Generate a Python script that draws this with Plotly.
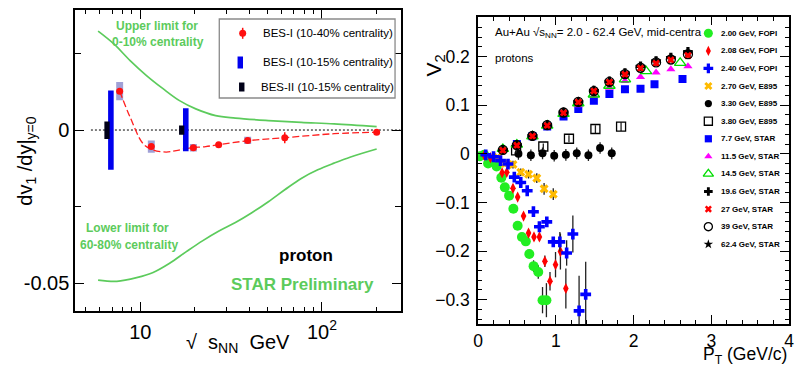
import plotly.graph_objects as go

W, H = 797, 369
FONT = "Liberation Sans, Arial, Helvetica, sans-serif"
GREEN_L = "#5ccb5c"

# ---------------- Left panel data ----------------
sqrt_s_red = [7.7, 11.5, 19.6, 27, 39, 62.4, 200]
dv1_red = [0.0127, -0.0054, -0.0058, -0.0048, -0.0034, -0.0025, -0.0007]
dv1_red_err = [0.0008, 0.0008, 0.0006, 0.0005, 0.0006, 0.0018, 0.0005]
dv1_red_sys = [0.003, 0.002, 0.0012, 0.0, 0.0012, 0.0, 0.0]

fit_x = [7.7, 8.79, 10.38, 11.77, 13.9, 15.75, 18.6, 22.9, 27, 39, 62.4, 116.7, 200]
fit_y = [0.0127, 0.0042, -0.0045, -0.0065, -0.0072, -0.0067, -0.0059, -0.0054,
         -0.0048, -0.0035, -0.0025, -0.0012, -0.0007]

upper_x = [5.86, 7.13, 8.79, 10.82, 13.34, 16.44, 20.2, 25.98, 33.4, 50.7, 76.9, 116.7, 200]
upper_y = [0.0323, 0.0282, 0.0227, 0.0178, 0.0135, 0.0096, 0.0069, 0.0047, 0.0039,
           0.0031, 0.0025, 0.0020, 0.0011]
lower_x = [5.86, 7.43, 9.55, 11.77, 14.5, 17.85, 22.0, 27.1, 33.4, 41.1, 50.7, 62.4,
           76.9, 94.8, 116.7, 143.8, 200]
lower_y = [-0.0490, -0.0494, -0.0482, -0.0465, -0.0435, -0.0398, -0.0362, -0.0330,
           -0.0302, -0.0270, -0.0234, -0.0195, -0.0158, -0.0130, -0.0108, -0.0088, -0.0062]

bes1_x = [6.89, 17.8]
bes1_lo = [-0.0130, -0.0069]
bes1_hi = [0.0129, 0.0071]
bes2_x = [6.56, 16.9]
bes2_lo = [-0.0029, -0.0015]
bes2_hi = [0.0028, 0.0015]

zero_line_x = [5.35, 270]

# ---------------- Right panel data ----------------
pt_200 = [0.025, 0.08, 0.13, 0.19, 0.24, 0.30, 0.345, 0.40, 0.455, 0.51, 0.565, 0.615,
          0.66, 0.715, 0.775, 0.83, 0.88]
v2_200 = [-0.005, -0.002, -0.020, -0.015, -0.026, -0.049, -0.069, -0.086, -0.113, -0.148,
          -0.171, -0.180, -0.206, -0.231, -0.243, -0.301, -0.301]
e_200 = [0.002, 0.002, 0.003, 0.003, 0.003, 0.004, 0.004, 0.005, 0.006, 0.006, 0.007,
         0.008, 0.009, 0.012, 0.014, 0.027, 0.035]

pt_208 = [0.08, 0.16, 0.31, 0.37, 0.45, 0.51, 0.586, 0.65, 0.72, 0.79, 0.86, 0.926,
          0.997, 1.06, 1.13]
v2_208 = [-0.003, -0.008, -0.039, -0.038, -0.071, -0.089, -0.128, -0.163, -0.171, -0.171,
          -0.221, -0.262, -0.228, -0.201, -0.277]
e_208 = [0.002, 0.002, 0.004, 0.004, 0.005, 0.005, 0.007, 0.007, 0.008, 0.008, 0.012,
         0.019, 0.026, 0.037, 0.041]

pt_240 = [0.1, 0.2, 0.29, 0.386, 0.467, 0.55, 0.633, 0.713, 0.79, 0.885, 0.968, 1.053,
          1.14, 1.22, 1.30, 1.385]
v2_240 = [-0.002, -0.006, -0.014, -0.021, -0.048, -0.059, -0.076, -0.119, -0.150, -0.140,
          -0.181, -0.181, -0.204, -0.165, -0.323, -0.289]
e_240 = [0.002, 0.002, 0.003, 0.004, 0.005, 0.005, 0.006, 0.008, 0.010, 0.010, 0.010,
         0.020, 0.026, 0.038, 0.072, 0.067]

pt_270 = [0.25, 0.35, 0.45, 0.55, 0.65, 0.756, 0.85, 0.968]
v2_270 = [-0.007, -0.020, -0.022, -0.038, -0.042, -0.050, -0.072, -0.083]
e_270 = [0.004, 0.006, 0.008, 0.008, 0.009, 0.010, 0.012, 0.012]

pt_330 = [0.52, 0.68, 0.83, 0.98, 1.13, 1.27, 1.42, 1.57, 1.72]
v2_330 = [0.000, -0.003, 0.001, -0.004, -0.002, 0.001, -0.003, 0.012, 0.001]
e_330 = [0.012, 0.012, 0.012, 0.012, 0.012, 0.012, 0.012, 0.012, 0.012]

pt_380 = [0.49, 0.84, 1.17, 1.51, 1.84]
v2_380 = [0.007, 0.015, 0.031, 0.051, 0.056]
e_380 = [0.005, 0.006, 0.007, 0.008, 0.009]

pt_star = [0.32, 0.50, 0.70, 0.89, 1.10, 1.29, 1.49, 1.69, 1.89, 2.09, 2.29, 2.48, 2.70]
v2_624 = [0.008, 0.018, 0.037, 0.059, 0.085, 0.107, 0.130, 0.148, 0.165, 0.178, 0.190, 0.196, 0.208]
v2_39 = [0.008, 0.018, 0.037, 0.059, 0.085, 0.107, 0.129, 0.148, 0.164, 0.177, 0.188, 0.194, 0.205]
v2_27 = [0.007, 0.017, 0.036, 0.058, 0.084, 0.106, 0.129, 0.147, 0.163, 0.176, 0.186, 0.193, 0.202]
v2_196 = [0.008, 0.018, 0.037, 0.059, 0.085, 0.107, 0.130, 0.149, 0.166, 0.180, 0.191, 0.198, 0.210]
e_196 = [0.002, 0.002, 0.002, 0.003, 0.003, 0.003, 0.004, 0.005, 0.005, 0.006, 0.007, 0.008, 0.009]
v2_115 = [0.012, 0.019, 0.035, 0.057, 0.080, 0.100, 0.119, 0.136, 0.150, 0.158, 0.167, 0.174, 0.180]
pt_145 = [0.32, 0.50, 0.70, 0.89, 1.10, 1.29, 1.49, 1.69, 1.89, 2.16, 2.60]
v2_145 = [0.010, 0.019, 0.036, 0.058, 0.082, 0.104, 0.122, 0.140, 0.153, 0.170, 0.187]
pt_77 = [0.50, 0.70, 0.89, 1.10, 1.29, 1.49, 1.69, 1.89, 2.09, 2.27, 2.63]
v2_77 = [0.020, 0.036, 0.056, 0.077, 0.092, 0.109, 0.123, 0.133, 0.134, 0.143, 0.154]

legend_labels = ["2.00 GeV, FOPI", "2.08 GeV, FOPI", "2.40 GeV, FOPI", "2.70 GeV, E895",
                 "3.30 GeV, E895", "3.80 GeV, E895", "7.7 GeV, STAR", "11.5 GeV, STAR",
                 "14.5 GeV, STAR", "19.6 GeV, STAR", "27 GeV, STAR", "39 GeV, STAR",
                 "62.4 GeV, STAR"]

# marker styles (symbol, color, size, open?)
styles = {
    "2.00 GeV, FOPI": ("circle", "#22ee22", 10, False),
    "2.08 GeV, FOPI": ("diamond-tall", "#ff0000", 8, False),
    "2.40 GeV, FOPI": ("cross", "#0000ff", 9, False),
    "2.70 GeV, E895": ("x", "#ffbb00", 8, False),
    "3.30 GeV, E895": ("circle", "#000000", 8, False),
    "3.80 GeV, E895": ("square-open", "#000000", 9, True),
    "7.7 GeV, STAR": ("square", "#0000ff", 8, False),
    "11.5 GeV, STAR": ("triangle-up", "#ff00ff", 8, False),
    "14.5 GeV, STAR": ("triangle-up-open", "#00dd00", 10, True),
    "19.6 GeV, STAR": ("cross", "#000000", 8, False),
    "27 GeV, STAR": ("x", "#ff0000", 7, False),
    "39 GeV, STAR": ("circle-open", "#000000", 9, True),
    "62.4 GeV, STAR": ("star", "#000000", 8, False),
}

series = [
    ("2.00 GeV, FOPI", pt_200, v2_200, e_200),
    ("2.08 GeV, FOPI", pt_208, v2_208, e_208),
    ("2.70 GeV, E895", pt_270, v2_270, e_270),
    ("2.40 GeV, FOPI", pt_240, v2_240, e_240),
    ("3.30 GeV, E895", pt_330, v2_330, e_330),
    ("3.80 GeV, E895", pt_380, v2_380, e_380),
    ("7.7 GeV, STAR", pt_77, v2_77, None),
    ("11.5 GeV, STAR", pt_star, v2_115, None),
    ("14.5 GeV, STAR", pt_145, v2_145, None),
    ("19.6 GeV, STAR", pt_star, v2_196, e_196),
    ("62.4 GeV, STAR", pt_star, v2_624, None),
    ("27 GeV, STAR", pt_star, v2_27, None),
    ("39 GeV, STAR", pt_star, v2_39, None),
]


def marker_of(name, scale=1.0):
    sym, col, size, is_open = styles[name]
    if is_open:
        return dict(symbol=sym, color=col, size=size * scale, line=dict(color=col, width=1.3))
    return dict(symbol=sym, color=col, size=size * scale, line=dict(width=0))


fig = go.Figure()

# ---------- left panel traces ----------
fig.add_trace(go.Scatter(x=zero_line_x, y=[0, 0], mode="lines",
                         line=dict(color="black", width=1, dash="2px,2px"),
                         xaxis="x", yaxis="y", hoverinfo="skip"))
fig.add_trace(go.Scatter(x=upper_x, y=upper_y, mode="lines",
                         line=dict(color=GREEN_L, width=1.7, shape="spline"), xaxis="x", yaxis="y"))
fig.add_trace(go.Scatter(x=lower_x, y=lower_y, mode="lines",
                         line=dict(color=GREEN_L, width=1.7, shape="spline"), xaxis="x", yaxis="y"))

# systematic boxes
bx, by = [], []
for e, v, s in zip(sqrt_s_red, dv1_red, dv1_red_sys):
    if s > 0:
        f = 1.045
        bx += [e / f, e * f, e * f, e / f, e / f, None]
        by += [v - s, v - s, v + s, v + s, v - s, None]
fig.add_trace(go.Scatter(x=bx, y=by, mode="lines", fill="toself",
                         fillcolor="rgba(128,128,200,0.75)", line=dict(width=0),
                         xaxis="x", yaxis="y"))

fig.add_trace(go.Scatter(x=fit_x, y=fit_y, mode="lines",
                         line=dict(color="#ff2020", width=1.3, dash="7px,3px", shape="spline"),
                         xaxis="x", yaxis="y"))


def bars(xs, lo, hi, f):
    px, py = [], []
    for c, l, h in zip(xs, lo, hi):
        px += [c / f, c * f, c * f, c / f, c / f, None]
        py += [l, l, h, h, l, None]
    return px, py


px_, py_ = bars(bes1_x, bes1_lo, bes1_hi, 1.036)
fig.add_trace(go.Scatter(x=px_, y=py_, mode="lines", fill="toself", fillcolor="#0000ee",
                         line=dict(width=0), xaxis="x", yaxis="y"))
px_, py_ = bars(bes2_x, bes2_lo, bes2_hi, 1.034)
fig.add_trace(go.Scatter(x=px_, y=py_, mode="lines", fill="toself", fillcolor="#000018",
                         line=dict(width=0), xaxis="x", yaxis="y"))

fig.add_trace(go.Scatter(x=sqrt_s_red, y=dv1_red, mode="markers",
                         marker=dict(color="#ff1010", size=7),
                         error_y=dict(type="data", array=dv1_red_err, color="#ff1010",
                                      thickness=1.5, width=0),
                         xaxis="x", yaxis="y"))

# ---------- right panel traces ----------
for name, xs, ys, es in series:
    kw = {}
    if es is not None:
        kw["error_y"] = dict(type="data", array=es, color="#222222", thickness=1.3, width=0)
    fig.add_trace(go.Scatter(x=xs, y=ys, mode="markers", marker=marker_of(name),
                             xaxis="x2", yaxis="y2", **kw))

# ---------- legend glyphs (pixel overlay axis) ----------
leg_y = [33.3 + i * 17.58 for i in range(len(legend_labels))]
for name, yy in zip(legend_labels, leg_y):
    fig.add_trace(go.Scatter(x=[712.3], y=[yy], mode="markers", marker=marker_of(name, 0.9),
                             xaxis="x3", yaxis="y3", cliponaxis=False))
fig.add_trace(go.Scatter(x=[240.7], y=[33.3], mode="markers",
                         marker=dict(color="#ff1010", size=7),
                         error_y=dict(type="data", array=[5.5], color="#ff1010", thickness=1.5, width=0),
                         xaxis="x3", yaxis="y3", cliponaxis=False))

shapes = [
    dict(type="rect", xref="x3", yref="y3", x0=217, x1=395, y0=19, y1=98,
         line=dict(color="#8a8a8a", width=1.3), fillcolor="white", layer="below"),
    dict(type="rect", xref="x3", yref="y3", x0=235.5, x1=241, y0=56.5, y1=68.5,
         line=dict(width=0), fillcolor="#0000ee"),
    dict(type="rect", xref="x3", yref="y3", x0=237, x1=242.5, y0=82.5, y1=91.5,
         line=dict(width=0), fillcolor="#000018"),
]

ann = []


def text(x, y, s, size, color="black", xanchor="center", angle=0, yanchor="middle"):
    ann.append(dict(x=x, y=y, xref="x3", yref="y3", text=s, showarrow=False,
                    font=dict(family=FONT, size=size, color=color), xanchor=xanchor,
                    yanchor=yanchor, textangle=angle))


text(259, 33.3, "BES-I (10-40% centrality)", 11.5, xanchor="left")
text(259, 61.5, "BES-I (10-15% centrality)", 11.5, xanchor="left")
text(257, 87, "BES-II (10-15% centrality)", 11.5, xanchor="left")
text(154, 26, "<b>Upper limit for</b>", 12, GREEN_L)
text(155, 42, "<b>0-10% centrality</b>", 12, GREEN_L)
text(124, 228, "<b>Lower limit for</b>", 12, GREEN_L)
text(125.5, 244.5, "<b>60-80% centrality</b>", 12, GREEN_L)
text(305, 255, "<b>proton</b>", 17)
text(301, 284, "<b>STAR Preliminary</b>", 17, GREEN_L)
text(21, 161, "dv<sub>1</sub> /dy|<sub>y=0</sub>", 20, angle=-90)
text(236, 343, "\u221a\u00a0 s<sub>NN</sub>\u00a0 GeV", 20)

text(494, 32.5, "Au+Au \u221as<sub>NN</sub>= 2.0 - 62.4 GeV, mid-centra", 11.5, xanchor="left")
text(494, 57.5, "protons", 11.5, xanchor="left")
text(435, 66, "V<sub>2</sub>", 21, angle=-90)
text(794, 368.5, "P<sub>T</sub> (GeV/c)", 17.5, xanchor="right", yanchor="bottom")
for lab, yy in zip(legend_labels, leg_y):
    text(723.5, yy, "<b>" + lab + "</b>", 8, xanchor="left")

axis_common = dict(showline=True, linecolor="black", linewidth=1.5, mirror="ticks",
                   ticks="inside", tickcolor="black", showgrid=False, zeroline=False,
                   tickfont=dict(family=FONT, size=20, color="black"))

fig.update_layout(
    width=W, height=H, autosize=False,
    margin=dict(l=0, r=0, t=0, b=0),
    paper_bgcolor="white", plot_bgcolor="rgba(0,0,0,0)",
    showlegend=False,
    font=dict(family=FONT),
    xaxis=dict(axis_common, type="log", domain=[71 / W, 401 / W], range=[0.6413, 2.4348],
               anchor="y", tickvals=[10, 100], ticktext=["10", "10<sup>2</sup>"], ticklen=9,
               ticklabelstandoff=2,
               minor=dict(tickmode="array",
                          tickvals=[5, 6, 7, 8, 9, 20, 30, 40, 50, 60, 70, 80, 90, 200],
                          ticklen=4.5, ticks="inside", tickcolor="black")),
    yaxis=dict(axis_common, domain=[1 - 311 / H, 1 - 10 / H], range=[-0.0591, 0.0392],
               anchor="x", tickvals=[-0.05, 0], ticktext=["-0.05", "0"], ticklen=9,
               minor=dict(tickmode="array", tickvals=[-0.025, 0.025], ticklen=6,
                          ticks="inside", tickcolor="black")),
    xaxis2=dict(axis_common, domain=[479 / W, 794 / W], range=[0, 4], anchor="y2",
                tick0=0, dtick=1, ticklen=9, tickfont=dict(family=FONT, size=17.5, color="black"),
                ticklabelstandoff=0, ticklabeloverflow="allow",
                minor=dict(tick0=0, dtick=0.2, ticklen=4.5, ticks="inside", tickcolor="black")),
    yaxis2=dict(axis_common, domain=[1 - 324 / H, 1 - 16.7 / H], range=[-0.35, 0.282],
                anchor="x2", tick0=0, dtick=0.1, ticklen=9,
                tickfont=dict(family=FONT, size=17.5, color="black"),
                ticklabelstandoff=3,
                minor=dict(tick0=0, dtick=0.02, ticklen=4.5, ticks="inside", tickcolor="black")),
    xaxis3=dict(domain=[0, 1], range=[0, W], visible=False, fixedrange=True, anchor="y3"),
    yaxis3=dict(domain=[0, 1], range=[H, 0], visible=False, fixedrange=True, anchor="x3"),
    shapes=shapes,
    annotations=ann,
)

fig.write_html("out.html")
